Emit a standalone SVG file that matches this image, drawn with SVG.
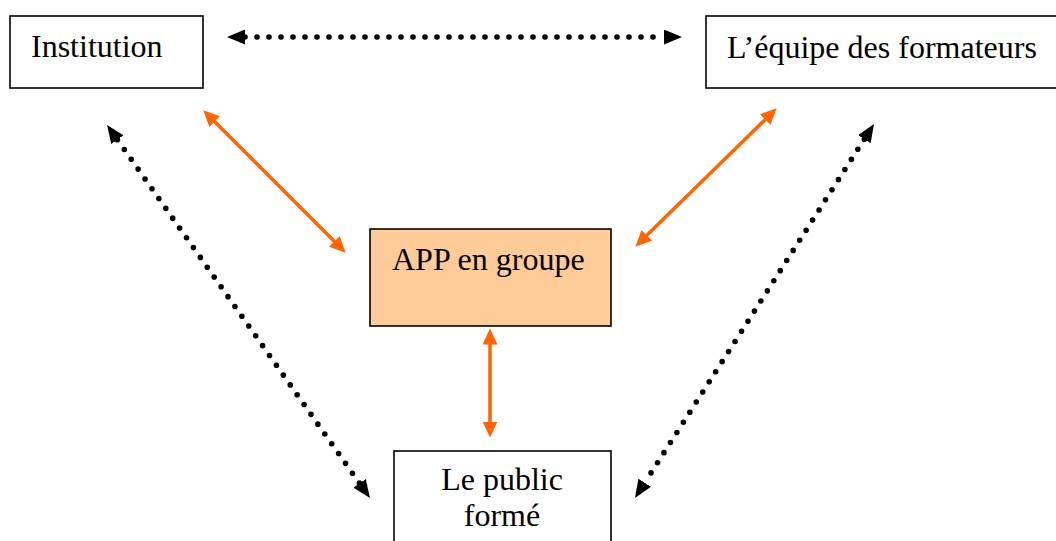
<svg xmlns="http://www.w3.org/2000/svg" width="1056" height="541" viewBox="0 0 1056 541">
<style>
.box{fill:#fff;stroke:#000;stroke-width:1.6}
.app{fill:#FFCC99;stroke:#000;stroke-width:1.6}
.t{font-family:"Liberation Serif","Times New Roman",serif;font-size:32px;fill:#000}
.dot{stroke:#000;stroke-width:5.6;stroke-linecap:round;stroke-dasharray:0 12;fill:none}
.or{stroke:#FF6600;stroke-width:3.6;fill:none}
</style>
<defs>
<marker id="ab" markerUnits="userSpaceOnUse" markerWidth="18" markerHeight="15" viewBox="0 0 18 15" refX="0" refY="7.5" orient="auto-start-reverse"><path d="M0,0 L18,7.5 L0,15 Z" fill="#000"/></marker>
<marker id="ao" markerUnits="userSpaceOnUse" markerWidth="16" markerHeight="15" viewBox="0 0 16 15" refX="0.5" refY="7.5" orient="auto-start-reverse"><path d="M0,0 L16,7.5 L0,15 Z" fill="#FF6600"/></marker>
</defs>
<g id="connectors">
<line class="dot" x1="245" y1="37" x2="664" y2="37" marker-start="url(#ab)" marker-end="url(#ab)"/>
<line class="dot" x1="117.4" y1="139.7" x2="359.6" y2="483.3" marker-start="url(#ab)" marker-end="url(#ab)"/>
<line class="dot" x1="864.3" y1="139.2" x2="644.7" y2="482.8" marker-start="url(#ab)" marker-end="url(#ab)"/>
<line class="or" x1="214.3" y1="121.3" x2="334.7" y2="241.7" marker-start="url(#ao)" marker-end="url(#ao)"/>
<line class="or" x1="765.6" y1="119.2" x2="646.4" y2="235.8" marker-start="url(#ao)" marker-end="url(#ao)"/>
<line class="or" x1="490" y1="344" x2="490" y2="422" marker-start="url(#ao)" marker-end="url(#ao)"/>
</g>
<g id="institution">
<rect class="box" x="10" y="16" width="193" height="72"/>
<text class="t" x="31" y="57">Institution</text>
</g>
<g id="equipe">
<rect class="box" x="706" y="16" width="360" height="72"/>
<text class="t" x="727" y="58">L’équipe des formateurs</text>
</g>
<g id="app">
<rect class="app" x="370" y="229" width="241" height="97"/>
<text class="t" x="392" y="270">APP en groupe</text>
</g>
<g id="public">
<rect class="box" x="394" y="451" width="217" height="100"/>
<text class="t" x="502" y="490" text-anchor="middle">Le public</text>
<text class="t" x="502" y="526" text-anchor="middle">formé</text>
</g>
</svg>
